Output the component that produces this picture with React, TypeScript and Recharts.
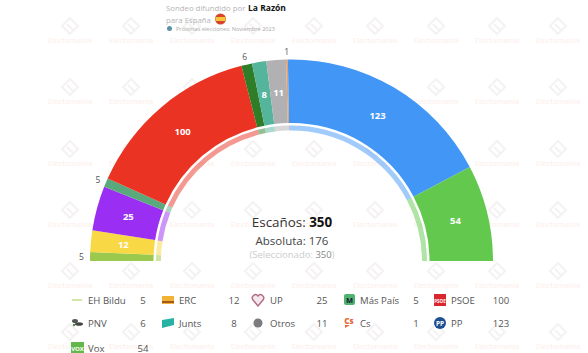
import React from "react";
import { PieChart, Pie, Cell } from "recharts";

const parties = ["EH Bildu", "ERC", "UP", "Más País", "PSOE", "PNV", "Junts", "Otros", "Cs", "PP", "Vox"];
const seats = [5, 12, 25, 5, 100, 6, 8, 11, 1, 123, 54];
const colors = ["#9bc94e", "#f8d845", "#9a2ef2", "#5aa97c", "#ea3323", "#2f7d27", "#55b59c", "#b1b1b3", "#dea276", "#4297f6", "#62c94e"];
const legendRows = [
  ["EH Bildu", "ERC", "UP", "Más País", "PSOE"],
  ["PNV", "Junts", "Otros", "Cs", "PP"],
  ["Vox"],
];
const legendIconX = [77, 168, 258, 349, 440];
const legendNameX = [88, 179, 270, 360, 451];
const legendValueX = [143, 234, 322, 416, 501];
const legendRowY = [300, 323, 348];
const outsideLabels = ["EH Bildu", "Más País", "PNV", "Cs"];
const wmCols = [70, 131, 192, 253, 314, 375, 436, 497, 558];
const wmRows = [26, 87, 149, 210, 271, 332];

const data = parties.map((name, i) => ({ name, value: seats[i] }));
const FONT = "'Open Sans', sans-serif";
const RAD = Math.PI / 180;

function renderLabel(p: any) {
  const outside = outsideLabels.includes(p.name);
  const r = outside ? 210 : 169;
  const x = p.cx + r * Math.cos(p.midAngle * RAD);
  const y = p.cy - r * Math.sin(p.midAngle * RAD);
  return (
    <text
      key={p.name}
      x={x}
      y={y}
      textAnchor="middle"
      dominantBaseline="central"
      fontFamily={FONT}
      fontSize={outside ? 8.5 : 9.5}
      fontWeight={outside ? 400 : 700}
      fill={outside ? "#555" : "#fff"}
    >
      {p.value}
    </text>
  );
}

function Icon({ name, x, y }: { name: string; x: number; y: number }) {
  switch (name) {
    case "EH Bildu":
      return <rect x={x - 5} y={y - 1} width={10} height={2} fill="#d3e6a6" />;
    case "ERC":
      return (
        <g>
          <rect x={x - 6} y={y - 4} width={12} height={8} fill="#f2b233" />
          <rect x={x - 6} y={y + 1} width={12} height={2} fill="#a3581c" />
        </g>
      );
    case "UP":
      return (
        <path
          d={`M${x} ${y + 6}L${x - 5} ${y}A3 3 0 0 1 ${x} ${y - 4}A3 3 0 0 1 ${x + 5} ${y}Z`}
          fill="#f4e6ea"
          stroke="#b06a85"
          strokeWidth={1.4}
        />
      );
    case "Más País":
      return (
        <g>
          <rect x={x - 5} y={y - 6} width={11} height={11} rx={2} fill="#4fb36f" />
          <text x={x + 0.5} y={y + 2.5} textAnchor="middle" fontSize={7.5} fontWeight={700} fontFamily={FONT} fill="#123">M</text>
        </g>
      );
    case "PSOE":
      return (
        <g>
          <rect x={x - 6} y={y - 6} width={12} height={12} fill="#d9272e" />
          <text x={x} y={y + 3} textAnchor="middle" fontSize={4.5} fontWeight={700} fontFamily={FONT} fill="#fff">PSOE</text>
        </g>
      );
    case "PNV":
      return (
        <g>
          <ellipse cx={x - 2} cy={y - 2} rx={3} ry={2} fill="#555" />
          <ellipse cx={x + 2} cy={y + 1} rx={4} ry={1.8} fill="#444" />
          <circle cx={x - 3} cy={y + 2} r={1.2} fill="#4a8a3c" />
        </g>
      );
    case "Junts":
      return <path d={`M${x - 6} ${y - 3}L${x + 6} ${y - 5}V${y + 2}L${x - 6} ${y + 5}Z`} fill="#27b3a4" />;
    case "Otros":
      return <circle cx={x} cy={y} r={4.5} fill="#7b7b7f" />;
    case "Cs":
      return (
        <g>
          <text x={x} y={y + 0.5} textAnchor="middle" fontSize={8} fontWeight={800} fontFamily={FONT} fill="#e4683a">Cs</text>
          <path d={`M${x - 4} ${y + 2}H${x + 1}L${x - 4} ${y + 5}Z`} fill="#e4683a" />
        </g>
      );
    case "PP":
      return (
        <g>
          <circle cx={x} cy={y} r={6} fill="#1d4e92" />
          <text x={x} y={y + 2.5} textAnchor="middle" fontSize={6.5} fontWeight={700} fontFamily={FONT} fill="#fff">PP</text>
        </g>
      );
    case "Vox":
      return (
        <g>
          <rect x={x - 6} y={y - 6} width={13} height={13} fill="#62b84a" />
          <text x={x + 0.5} y={y + 2.5} textAnchor="middle" fontSize={6} fontWeight={700} fontFamily={FONT} fill="#fff">VOX</text>
        </g>
      );
    default:
      return null;
  }
}

const layer: React.CSSProperties = { position: "absolute", left: 0, top: 0 };

export default function App() {
  return (
    <div style={{ position: "absolute", left: 0, top: 0, width: 588, height: 353, background: "#fff", overflow: "hidden" }}>
      <svg width={588} height={353} style={layer}>
        {wmRows.map((wy) =>
          wmCols.map((wx) => (
            <g key={`${wx}-${wy}`}>
              <path
                d={`M${wx} ${wy - 8}L${wx + 8} ${wy}L${wx} ${wy + 8}L${wx - 8} ${wy}Z M${wx - 3} ${wy - 2}L${wx + 3} ${wy + 4}`}
                fill="none"
                stroke="#f5f2f3"
                strokeWidth={2.2}
              />
              <text x={wx} y={wy + 17} textAnchor="middle" fontFamily={FONT} fontSize={7.5} fontWeight={600} fill="#fdf1ee">
                Electomania
              </text>
            </g>
          ))
        )}
      </svg>
      <div style={layer}>
        <PieChart width={588} height={353} margin={{ top: 0, right: 0, bottom: 0, left: 0 }}>
          <Pie
            data={data}
            dataKey="value"
            nameKey="name"
            cx={291.5}
            cy={261}
            startAngle={180}
            endAngle={0}
            innerRadius={138}
            outerRadius={201.5}
            stroke="none"
            isAnimationActive={false}
            label={renderLabel}
            labelLine={false}
          >
            {data.map((d, i) => (
              <Cell key={d.name} fill={colors[i]} />
            ))}
          </Pie>
          <Pie
            data={data}
            dataKey="value"
            nameKey="name"
            cx={291.5}
            cy={261}
            startAngle={180}
            endAngle={0}
            innerRadius={130.5}
            outerRadius={135.5}
            stroke="none"
            isAnimationActive={false}
            label={false}
            labelLine={false}
          >
            {data.map((d, i) => (
              <Cell key={d.name} fill={colors[i]} fillOpacity={0.5} />
            ))}
          </Pie>
        </PieChart>
      </div>
      <svg width={588} height={353} style={layer} fontFamily={FONT}>
        <text x={166} y={11} fontSize={7.8} fill="#b5b5b5">Sondeo difundido por</text>
        <text x={248} y={11} fontSize={8.5} fontWeight={700} fill="#111">La Razón</text>
        <text x={166} y={23} fontSize={7.8} fill="#b5b5b5">para España</text>
        <circle cx={220.5} cy={19} r={5.5} fill="#d8432c" />
        <rect x={215.5} y={17} width={10} height={4} fill="#f3c63c" />
        <circle cx={169.5} cy={28.5} r={2.5} fill="#5a93a8" />
        <text x={176} y={31} fontSize={5.6} fill="#aaa">Próximas elecciones: Noviembre 2023</text>

        <text x={292} y={227} textAnchor="middle" fontSize={13.4} fill="#333">
          Escaños: <tspan fontWeight={700} fill="#111">350</tspan>
        </text>
        <text x={292} y={245} textAnchor="middle" fontSize={11.5} fill="#444">Absoluta: 176</text>
        <text x={292} y={258} textAnchor="middle" fontSize={9.5} fill="#ccc">
          (Seleccionado: <tspan fill="#888">350</tspan>)
        </text>

        {legendRows.map((row, r) =>
          row.map((name, c) => (
            <g key={name}>
              <Icon name={name} x={legendIconX[c]} y={legendRowY[r]} />
              <text x={legendNameX[c]} y={legendRowY[r] + 3.5} fontSize={9.6} fill="#555">{name}</text>
              <text x={legendValueX[c]} y={legendRowY[r] + 3.5} fontSize={9.6} textAnchor="middle" fill="#555">
                {seats[parties.indexOf(name)]}
              </text>
            </g>
          ))
        )}
      </svg>
    </div>
  );
}
